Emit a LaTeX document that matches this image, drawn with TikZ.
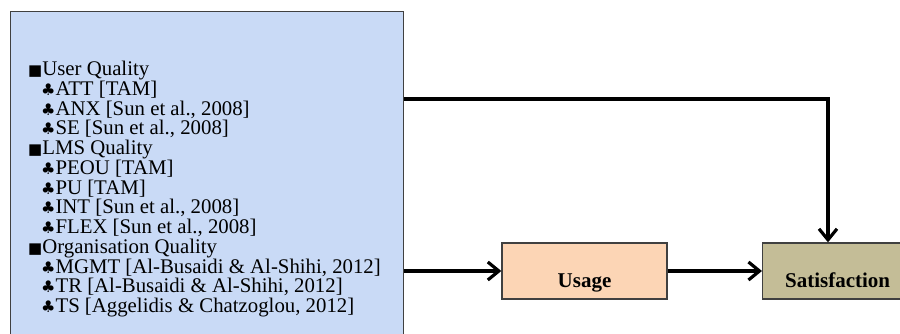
\documentclass[tikz,border=0pt]{standalone}
\usepackage{fontspec}
\setmainfont{Liberation Serif}
\newfontfamily\symfont{DejaVu Sans}
\usetikzlibrary{arrows.meta}
\definecolor{factorblue}{HTML}{C9DAF6}
\definecolor{usagepeach}{HTML}{FCD5B5}
\definecolor{sattan}{HTML}{C4BD97}
\newcommand{\grp}[1]{{\symfont\fontsize{15}{15}\selectfont ■}#1}
\newcommand{\itm}[1]{\hspace*{13pt}{\symfont\fontsize{16}{16}\selectfont ♣}#1}

\begin{document}
\begin{tikzpicture}[x=1pt,y=-1pt,
  box/.style={draw=black!75,line width=1.3pt,inner sep=0pt},
  arr/.style={line width=3.2pt,-{Straight Barb[length=11pt,width=18pt,line width=3.2pt]}},
  lbl/.style={font=\fontsize{21}{21}\selectfont\bfseries}]
\useasboundingbox (0,0) rectangle (900,334);
\clip (0,0) rectangle (900,334);
\node[box,fill=factorblue,anchor=north west,minimum width=393,minimum height=340] (factors) at (10,11) {};
\node[anchor=north west,align=left,inner sep=0pt,font=\fontsize{20.8}{19.75}\selectfont] (list) at (28,61) {%
\grp{User Quality}\\
\itm{ATT [TAM]}\\
\itm{ANX [Sun et al., 2008]}\\
\itm{SE [Sun et al., 2008]}\\
\grp{LMS Quality}\\
\itm{PEOU [TAM]}\\
\itm{PU [TAM]}\\
\itm{INT [Sun et al., 2008]}\\
\itm{FLEX [Sun et al., 2008]}\\
\grp{Organisation Quality}\\
\itm{MGMT [Al-Busaidi \& Al-Shihi, 2012]}\\
\itm{TR [Al-Busaidi \& Al-Shihi, 2012]}\\
\itm{TS [Aggelidis \& Chatzoglou, 2012]}};
\node[box,fill=usagepeach,lbl,minimum width=165,minimum height=56] (usage) at (584.5,271) {\raisebox{-16pt}[0pt][0pt]{Usage}};
\node[box,fill=sattan,lbl,anchor=west,minimum width=150,minimum height=56] (sat) at (762,271) {\raisebox{-16pt}[0pt][0pt]{Satisfaction}};
\coordinate (turn) at (828,99);
\draw[arr] (factors.east |- turn) -- (turn) -- (turn |- sat.north);
\draw[arr] (factors.east |- usage.west) -- (usage.west);
\draw[arr] (usage.east) -- (sat.west);
\end{tikzpicture}
\end{document}
